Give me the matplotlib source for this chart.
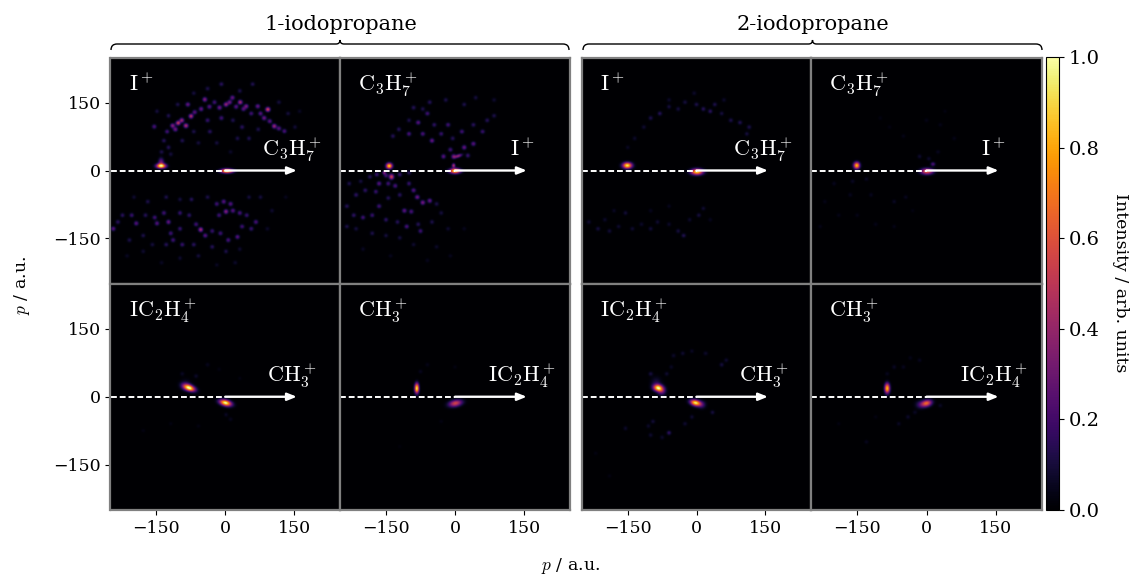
import numpy as np
import matplotlib
matplotlib.use("Agg")
import matplotlib.pyplot as plt
from matplotlib.path import Path
from matplotlib.patches import PathPatch

plt.rcParams['font.family'] = ['DejaVu Serif']
plt.rcParams['mathtext.fontset'] = 'cm'

# main spots: (px, py, amp, sigma_x, sigma_y, angle)
spots_a = [(-141, 9, 1.0, 7, 3.5, 0), (-141, 18, 0.3, 4, 6, 0), (2, -2, 1.0, 9, 3.2, 0)]
spots_b = [(-143, 9, 0.9, 4.5, 4.2, 0), (0, -2, 0.95, 8, 3.8, 0), (-138, -15, 0.55, 3.5, 4, 0),
           (-154, -6, 0.35, 2.5, 2.5, 0), (7, 31, 0.38, 6, 2.5, 20), (-3, 10, 0.45, 2.5, 3, 0)]
spots_c = [(-151, 10, 0.95, 7, 4.5, 0), (1, -4, 0.9, 9, 4.5, 0)]
spots_d = [(-151, 10, 0.85, 4.5, 5, 0), (1, -3, 0.65, 9, 4.5, 0), (14, 13, 0.22, 3.5, 3, 0)]
spots_e = [(-80, 19, 1.0, 9, 4.5, -20), (-1, -14, 1.0, 9, 4.5, -15), (-88, 25, 0.12, 8, 8, 0)]
spots_f = [(-83, 18, 0.95, 3.2, 7.5, 0), (1, -15, 0.55, 10, 5, 12)]
spots_g = [(-84, 19, 0.95, 7, 5, -10), (-76, 12, 0.3, 6, 6, 0), (-2, -14, 0.95, 8, 4.5, -15),
           (-88, 32, 0.1, 8, 8, 0), (12, -18, 0.15, 6, 6, 0)]
spots_h = [(-85, 18, 0.85, 3.8, 7.5, 0), (0, -15, 0.65, 8, 5, 15), (-14, -18, 0.15, 7, 6, 0)]

# speckle: (px, py, amp)
speckle_a = [(-104, 104, .5), (-87, 98, .45), (-76, 119, .45), (-116, 98, .35), (-156, 96, .22), (-46, 156, .35),
             (-83, 145, .28), (-54, 135, .28), (-36, 140, .25), (-14, 138, .3), (0, 145, .38), (14, 160, .28),
             (31, 150, .42), (44, 141, .32), (69, 141, .28), (91, 134, .55), (83, 115, .3), (105, 97, .4),
             (127, 86, .22), (-96, 110, .4), (-110, 90, .3), (-68, 128, .25), (-25, 150, .2), (8, 150, .3),
             (22, 140, .25), (38, 135, .25), (55, 125, .2), (75, 125, .25), (95, 108, .25), (115, 92, .25),
             (-128, 85, .2), (-135, 65, .14), (-125, 50, .14), (-140, 40, .12), (-120, 35, .1), (-95, 65, .13),
             (-70, 85, .12), (-40, 110, .18), (-10, 115, .2), (-35, 85, .15), (15, 110, .13), (35, 95, .15),
             (50, 70, .13), (25, 70, .12), (70, 90, .12), (-60, 60, .1), (-20, 60, .1), (10, 40, .07),
             (-10, 190, .15), (-40, 180, .12), (58, 190, .13), (-70, 170, .1), (30, 175, .12), (115, 150, .1),
             (135, 125, .1), (160, 130, .06), (150, 95, .09), (-150, 130, .1), (-105, 145, .12), (-125, 120, .13),
             (-5, -70, .25), (10, -75, .25), (-20, -75, .2), (0, -92, .35), (15, -90, .25), (30, -95, .22),
             (45, -100, .18), (-15, -100, .2), (65, -115, .22), (55, -130, .18), (35, -125, .2), (25, -148, .25),
             (5, -155, .22), (-12, -140, .2), (-30, -135, .18), (-55, -132, .42), (-45, -145, .25), (-65, -120, .2),
             (-80, -100, .16), (-100, -95, .18), (-155, -105, .2), (-125, -115, .28), (-150, -118, .24), (-175, -100, .14),
             (-195, -118, .24), (-205, -100, .18), (-225, -100, .15), (-245, -130, .25), (-235, -115, .15), (-135, -95, .2),
             (-120, -140, .2), (-115, -155, .2), (-100, -130, .18), (-130, -165, .14), (-95, -165, .18), (-70, -165, .15),
             (-180, -145, .12), (-210, -155, .12), (-160, -165, .1), (-40, -60, .12), (-75, -65, .14), (-100, -65, .1),
             (-170, -70, .12), (-200, -60, .08), (-130, -60, .12), (-30, -170, .14), (0, -180, .12), (30, -175, .08),
             (-60, -190, .1), (-100, -195, .08), (-180, -180, .08), (-215, -190, .06), (75, -60, .1), (100, -90, .08),
             (90, -130, .07), (50, -60, .1), (130, -60, .05), (-140, -205, .06), (-20, -210, .06), (20, -205, .07)]
speckle_b = [(-3, 30, .3), (20, 50, .28), (40, 58, .25), (28, 32, .18), (-50, 65, .28), (-25, 30, .25),
             (-10, 45, .2), (-70, 80, .22), (-100, 80, .22), (-80, 105, .25), (-60, 125, .2), (-15, 100, .2),
             (15, 85, .2), (40, 100, .15), (60, 85, .18), (70, 110, .14), (85, 120, .12), (-30, 80, .18),
             (-5, 70, .14), (-45, 100, .16), (-122, 90, .14), (-135, 75, .14), (-100, 110, .12), (-90, 138, .14),
             (-70, 135, .12), (-55, 150, .14), (-20, 155, .12), (20, 145, .12), (45, 160, .1), (85, 155, .08),
             (-150, -12, .2), (-170, -10, .18), (-185, -15, .14), (-120, -10, .18), (-100, -6, .14), (-205, -25, .1),
             (-90, -45, .24), (-82, -60, .3), (-70, -72, .32), (-55, -68, .28), (-100, -30, .18), (-165, -30, .25),
             (-172, -48, .18), (-145, -30, .2), (-130, -35, .22), (-215, -55, .16), (-195, -45, .16), (-230, -30, .12),
             (-120, -55, .15), (-145, -62, .14), (-110, -90, .26), (-95, -92, .22), (-165, -80, .2), (-180, -100, .18),
             (-200, -105, .2), (-220, -100, .16), (-235, -80, .14), (-150, -110, .16), (-125, -115, .14), (-105, -125, .22),
             (-80, -120, .14), (-75, -135, .2), (-50, -115, .12), (-30, -95, .1), (-40, -75, .12), (-15, -130, .08),
             (-120, -150, .1), (-180, -140, .12), (-215, -130, .1), (-235, -125, .12), (-150, -145, .1), (-90, -165, .08),
             (-40, -170, .07), (-200, -175, .06), (-140, -190, .05), (-60, -200, .05), (-10, -190, .05), (20, -130, .05)]
speckle_c = [(-80, 125, .14), (-100, 115, .12), (-60, 140, .1), (-40, 135, .1), (-25, 150, .1), (0, 145, .12),
             (15, 135, .14), (30, 130, .15), (40, 145, .12), (55, 125, .1), (75, 110, .12), (95, 105, .13),
             (115, 95, .12), (110, 80, .1), (-115, 95, .08), (-135, 70, .07), (-150, 50, .06), (-5, 170, .07),
             (-60, 155, .07), (60, 155, .07), (-235, -115, .08), (-215, -130, .1), (-200, -110, .07), (-190, -135, .09),
             (-170, -125, .08), (-155, -95, .09), (-140, -130, .08), (-120, -120, .07), (-100, -130, .09), (-85, -115, .08),
             (-60, -120, .07), (-40, -135, .1), (-28, -145, .13), (-15, -110, .07), (5, -100, .1), (15, -85, .08),
             (-180, -90, .06), (-100, -90, .05), (-60, -80, .05), (30, -110, .05)]
speckle_d = [(-15, 30, .08), (5, 25, .07), (25, 40, .05), (-80, 95, .03), (30, 100, .04), (-50, 75, .04),
             (-160, -25, .06), (-130, -20, .06), (-200, -30, .05), (-165, -55, .05), (-120, -55, .05), (-70, -70, .06),
             (-45, -60, .05), (-220, -70, .04), (-190, -100, .04), (-150, -100, .04), (-110, -120, .04), (-70, -125, .04),
             (-230, -125, .04), (0, 110, .04), (60, 70, .04), (-100, 115, .03), (40, 130, .03), (-30, -90, .03)]
speckle_e = [(-65, 45, .07), (-40, 70, .05), (-95, 50, .06), (-15, 60, .03), (30, 40, .03), (10, -50, .05),
             (0, -40, .06), (-120, -60, .03), (-180, -75, .03), (-60, -65, .03)]
speckle_f = [(-75, 55, .05), (-60, 70, .04), (0, 65, .03), (-30, -55, .03), (-120, -110, .02)]
speckle_g = [(-50, 90, .07), (-30, 95, .08), (-10, 100, .06), (20, 95, .07), (55, 70, .1), (65, 80, .08),
             (-65, 50, .08), (-55, 65, .06), (-100, 50, .1), (-95, -55, .09), (-60, -80, .16), (-100, -85, .08),
             (-155, -70, .07), (-105, -65, .07), (-25, -60, .08), (-10, -45, .08), (35, -35, .1), (-75, -90, .07),
             (-220, -125, .03), (-190, -175, .03)]
speckle_h = [(-70, 65, .06), (-50, 65, .05), (-35, 85, .04), (-15, 80, .05), (-85, 50, .05), (-130, -100, .05),
             (-190, -60, .03), (-60, -60, .06), (-40, -45, .07), (-25, -35, .06), (30, -20, .06), (-110, -45, .03)]

ion_labels = [r'$\mathrm{I}^+$', r'$\mathrm{C_3H_7^+}$', r'$\mathrm{IC_2H_4^+}$', r'$\mathrm{CH_3^+}$']
arrow_labels = [r'$\mathrm{C_3H_7^+}$', r'$\mathrm{I}^+$', r'$\mathrm{CH_3^+}$', r'$\mathrm{IC_2H_4^+}$']
molecules = ['1-iodopropane', '2-iodopropane']
ticks = [-150, 0, 150]
cbar_ticks = [0.0, 0.2, 0.4, 0.6, 0.8, 1.0]

W, H = 1133, 580
GREY = '#808080'


def make_image(spots, speckle):
    edges = np.linspace(-250, 250, 251)
    c = (edges[:-1] + edges[1:]) / 2
    xx, yy = np.meshgrid(c, c)
    img = np.zeros_like(xx)
    for x, y, a, sx, sy, ang in spots:
        t = np.radians(ang)
        u = (xx - x) * np.cos(t) + (yy - y) * np.sin(t)
        v = -(xx - x) * np.sin(t) + (yy - y) * np.cos(t)
        img += a * np.exp(-u**2 / (2 * sx**2) - v**2 / (2 * sy**2))
    for x, y, a in speckle:
        img += a * np.exp(-((xx - x)**2 + (yy - y)**2) / (2 * 3.4**2))
    return np.clip(img, 0, 1)


def axes_px(x0, y0, x1, y1):
    return fig.add_axes([x0 / W, 1 - y1 / H, (x1 - x0) / W, (y1 - y0) / H])


def brace(x0, x1, y_low, y_high):
    # curly bracket above a group of panels, figure pixels
    mid = (x0 + x1) / 2
    v = [(x0, y_low), (x0, y_high), (x0 + 6, y_high), (mid - 4, y_high), (mid, y_high), (mid, y_high - 4),
         (mid, y_high), (mid + 4, y_high), (x1 - 6, y_high), (x1, y_high), (x1, y_low)]
    c = [Path.MOVETO, Path.CURVE3, Path.CURVE3, Path.LINETO, Path.CURVE3, Path.CURVE3,
         Path.CURVE3, Path.CURVE3, Path.LINETO, Path.CURVE3, Path.CURVE3]
    pts = [(px / W, 1 - py / H) for px, py in v]
    fig.add_artist(PathPatch(Path(pts, c), fc='none', ec='black', lw=1.0, transform=fig.transFigure))


fig = plt.figure(figsize=(W / 100, H / 100), dpi=100)

cols = [(110.5, 340), (340, 570), (582, 811), (811, 1042)]
rows = [(57.5, 283.5), (283.5, 510)]
panels = [[(spots_a, speckle_a), (spots_b, speckle_b), (spots_c, speckle_c), (spots_d, speckle_d)],
          [(spots_e, speckle_e), (spots_f, speckle_f), (spots_g, speckle_g), (spots_h, speckle_h)]]

for r, (y0, y1) in enumerate(rows):
    for c, (x0, x1) in enumerate(cols):
        ax = axes_px(x0, y0, x1, y1)
        spots, speckle = panels[r][c]
        im = ax.imshow(make_image(spots, speckle), origin='lower', extent=[-250, 250, -250, 250], cmap='inferno',
                       vmin=0, vmax=1, aspect='auto', interpolation='bilinear')
        ax.set_xlim(-250, 250)
        ax.set_ylim(-250, 250)
        ax.set_xticks(ticks if r == 1 else [])
        ax.set_yticks(ticks if c == 0 else [])
        ax.tick_params(labelsize=12.5, length=3.5, width=0.8, pad=3.5)
        for s in ax.spines.values():
            s.set_color(GREY)
            s.set_linewidth(1.6)
        ax.plot([-250, 0], [0, 0], color='white', lw=1.4, ls=(0, (3, 1.5)))
        ax.annotate('', xy=(156, 0), xytext=(0, 0),
                    arrowprops=dict(arrowstyle='-|>,head_length=0.55,head_width=0.22', color='white', lw=1.7,
                                    shrinkA=0, shrinkB=0))
        lab = ion_labels[r * 2 + c % 2]
        ax.text(-210, 190, lab, color='white', fontsize=16, ha='left', va='center')
        ax.text(146, 46, arrow_labels[r * 2 + c % 2], color='white', fontsize=16, ha='center', va='center')

cax = axes_px(1046, 57, 1059, 510)
cb = fig.colorbar(im, cax=cax)
cb.set_ticks(cbar_ticks)
cb.ax.tick_params(labelsize=14, length=3.5, width=0.8, pad=3.5)
cb.outline.set_linewidth(0.8)

brace(111, 569, 50, 44)
brace(583, 1042, 50, 44)
fig.text(340.5 / W, 1 - 24 / H, molecules[0], fontsize=15, ha='center', va='center')
fig.text(813 / W, 1 - 24 / H, molecules[1], fontsize=15, ha='center', va='center')

fig.text(22 / W, 1 - 285 / H, r'$p$ / a.u.', fontsize=12.5, rotation=90, ha='center', va='center')
fig.text(571 / W, 1 - 566 / H, r'$p$ / a.u.', fontsize=12.5, ha='center', va='center')
fig.text(1120 / W, 1 - 283 / H, 'Intensity / arb. units', fontsize=12.5, rotation=270, ha='center', va='center')

fig.savefig('out.png', dpi=100)
